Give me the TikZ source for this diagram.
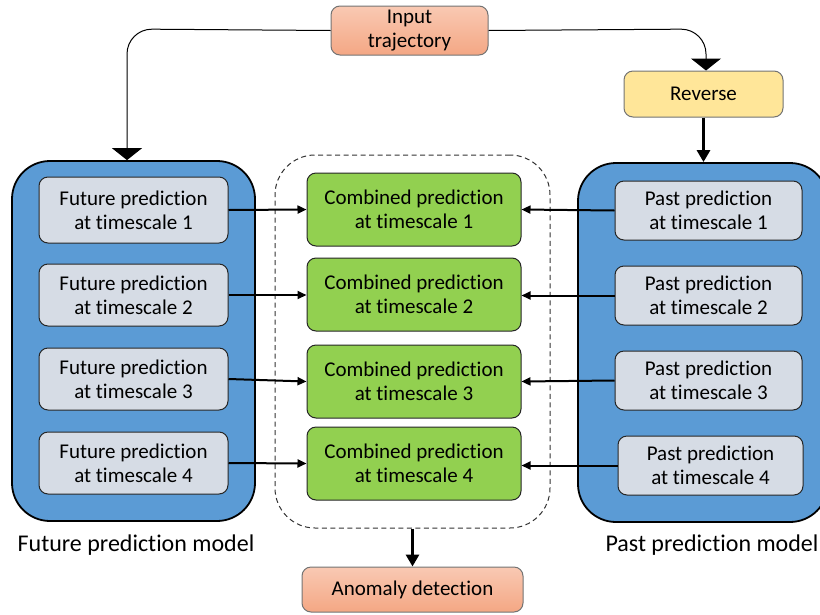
\documentclass[tikz,border=0pt]{standalone}
\usepackage{fontspec}
\setmainfont{Carlito}[Ligatures={NoCommon,NoRare,NoContextual}]
\usetikzlibrary{arrows.meta,positioning}
\definecolor{salmon1}{HTML}{F9C9B3}
\definecolor{salmon2}{HTML}{F4A784}
\definecolor{revfill}{HTML}{FFE699}
\definecolor{bluefill}{HTML}{5B9BD5}
\definecolor{grayfill}{HTML}{D6DCE5}
\definecolor{greenfill}{HTML}{92D050}
\tikzset{
  txt/.style={font=\fontsize{21}{24}\selectfont, align=center, text=black},
  pbox/.style={txt, draw=black!85, line width=1pt, rounded corners=9pt, inner sep=0pt},
  salmonbox/.style={pbox, draw=black!55, top color=salmon1, bottom color=salmon2},
  revbox/.style={pbox, draw=black!55, fill=revfill},
  graybox/.style={pbox, fill=grayfill},
  greenbox/.style={pbox, fill=greenfill},
  model/.style={draw=black, line width=1.8pt, fill=bluefill, rounded corners=38pt, inner sep=0pt},
  dashbox/.style={draw=black!80, dash pattern=on 5pt off 3.5pt, line width=1pt, rounded corners=40pt, inner sep=0pt},
  thinarrow/.style={draw=black, line width=1pt, rounded corners=25pt, -{Triangle[width=30pt,length=12pt]}},
  thickarrow/.style={draw=black, line width=3pt, -{Triangle[width=13pt,length=12pt]}},
  harrow/.style={draw=black, line width=2pt, -{Triangle[width=8pt,length=9pt]}}
}
\begin{document}
\begin{tikzpicture}[x=1pt,y=-1pt]
\useasboundingbox (0,0) rectangle (820,614);
% models and dashed container
\node[model, minimum width=243pt, minimum height=360pt] (fm) at (133.5,341) {};
\node[model, minimum width=250pt, minimum height=359pt] (pm) at (703,342.5) {};
\node[dashbox, minimum width=275pt, minimum height=373pt] (dash) at (412.5,341.5) {};
% top
\node[salmonbox, minimum width=157pt, minimum height=49pt] (inp) at (409.5,30.5) {Input\\trajectory};
\node[revbox, minimum width=159pt, minimum height=46pt] (rev) at (703.5,94) {Reverse};
% future boxes
\node[graybox, minimum width=189pt, minimum height=66pt] (f1) at (133.5,210) {Future prediction\\at timescale 1};
\node[graybox, minimum width=189pt, minimum height=62pt] (f2) at (133.5,295) {Future prediction\\at timescale 2};
\node[graybox, minimum width=189pt, minimum height=62pt] (f3) at (133.5,379) {Future prediction\\at timescale 3};
\node[graybox, minimum width=189pt, minimum height=62pt] (f4) at (133.5,463) {Future prediction\\at timescale 4};
% combined
\node[greenbox, minimum width=214pt, minimum height=73pt] (c1) at (414,209.5) {Combined prediction\\at timescale 1};
\node[greenbox, minimum width=214pt, minimum height=73pt] (c2) at (414,294.5) {Combined prediction\\at timescale 2};
\node[greenbox, minimum width=214pt, minimum height=73pt] (c3) at (414,381.5) {Combined prediction\\at timescale 3};
\node[greenbox, minimum width=214pt, minimum height=73pt] (c4) at (414,463.5) {Combined prediction\\at timescale 4};
% past
\node[graybox, minimum width=187pt, minimum height=59pt] (p1) at (708.5,210.5) {Past prediction\\at timescale 1};
\node[graybox, minimum width=187pt, minimum height=59pt] (p2) at (708.5,295.5) {Past prediction\\at timescale 2};
\node[graybox, minimum width=187pt, minimum height=59pt] (p3) at (708.5,380.5) {Past prediction\\at timescale 3};
\node[graybox, minimum width=185pt, minimum height=59pt] (p4) at (710.5,465.5) {Past prediction\\at timescale 4};
% labels
\node[txt, font=\fontsize{24}{26}\selectfont] (fl) at (136,545) {Future prediction model};
\node[txt, font=\fontsize{24}{26}\selectfont] (pl) at (712,545) {Past prediction model};
% anomaly
\node[salmonbox, minimum width=221pt, minimum height=45pt] (ano) at (412.5,589.5) {Anomaly detection};
% connectors
\coordinate (lc) at (127,29);
\coordinate (rc) at (706,29);
\draw[thinarrow] (inp.west) -- (lc) -- (fm.north -| lc);
\draw[thinarrow] (inp.east) -- (rc) -- (rev.north -| rc);
\draw[thickarrow] (rev.south) -- (pm.north -| rev.south);
\draw[thickarrow] (dash.south) -- (ano.north);
\draw[harrow] (f1.east) -- (c1.west);
\draw[harrow] (f2.east) -- (c2.west |- f2.east);
\draw[harrow] (f3.east) -- (c3.west);
\draw[harrow] (f4.east) -- (c4.west);
\draw[harrow] (p1.west) -- (c1.east);
\draw[harrow] (p2.west) -- (c2.east |- p2.west);
\draw[harrow] (p3.west) -- (c3.east);
\draw[harrow] (p4.west) -- (c4.east |- p4.west);
\end{tikzpicture}
\end{document}
